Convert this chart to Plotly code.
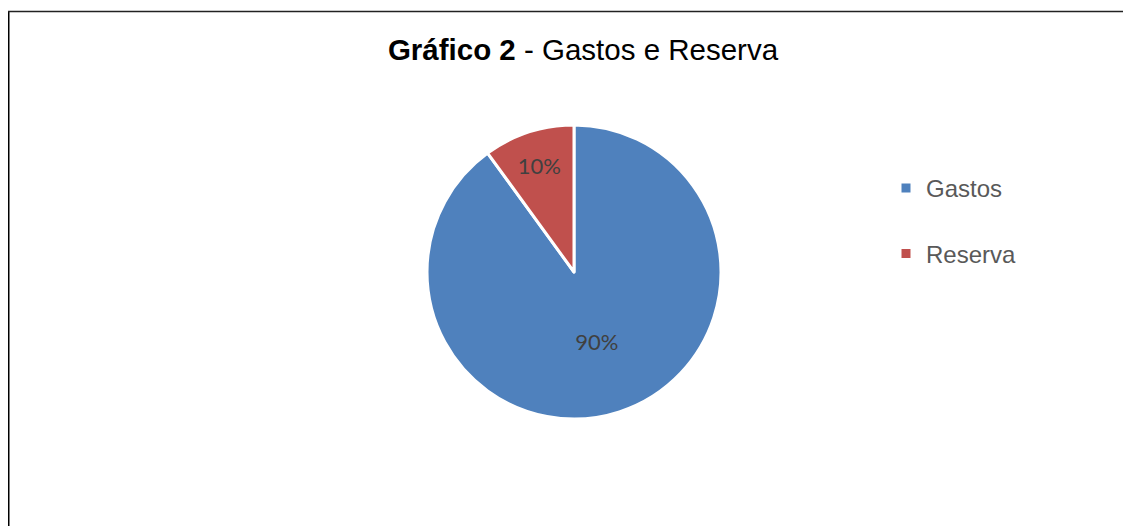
import plotly.graph_objects as go

categories = ["Gastos", "Reserva"]
values = [90, 10]
colors = ["#4F81BD", "#C0504D"]

# page body has an 8px margin, so the figure is drawn 8px in from the corner
W, H = 1123, 518

# legend entries padded with a blank second line to widen item spacing
legend_labels = [c + "<br> " for c in categories]

cx, cy, r = 566, 264, 147

fig = go.Figure(
    go.Pie(
        labels=legend_labels,
        values=values,
        sort=False,
        direction="clockwise",
        rotation=0,
        marker=dict(colors=colors, line=dict(color="white", width=3)),
        textinfo="percent",
        texttemplate="%{percent:.0%}",
        textposition="inside",
        insidetextorientation="horizontal",
        insidetextfont=dict(family="Lato", size=22, color="#404040"),
        hoverinfo="label+percent",
        domain=dict(x=[(cx - r) / W, (cx + r) / W],
                    y=[1 - (cy + r) / H, 1 - (cy - r) / H]),
    )
)

fig.update_layout(
    width=W,
    height=H,
    margin=dict(l=0, r=0, t=0, b=0),
    paper_bgcolor="white",
    plot_bgcolor="white",
    title=dict(
        text="<b>Gráfico 2</b> - Gastos e Reserva",
        font=dict(family="Liberation Sans, Arial", size=29.5, color="black"),
        x=575 / W,
        xanchor="center",
        y=1 - 42 / H,
        yanchor="middle",
        xref="container",
        yref="container",
    ),
    legend=dict(
        x=878 / W,
        y=1 - 158 / H,
        xanchor="left",
        yanchor="top",
        valign="top",
        font=dict(family="Liberation Sans, Arial", size=24, color="#595959"),
        bgcolor="rgba(0,0,0,0)",
    ),
    uniformtext=dict(minsize=22, mode="show"),
    shapes=[
        dict(type="line", xref="paper", yref="paper",
             x0=0, x1=0, y0=0, y1=1 - 3.5 / H,
             line=dict(color="black", width=3)),
        dict(type="line", xref="paper", yref="paper",
             x0=0, x1=1, y0=1 - 3.5 / H, y1=1 - 3.5 / H,
             line=dict(color="#222222", width=1.5)),
    ],
)

fig.write_html("out.html")
